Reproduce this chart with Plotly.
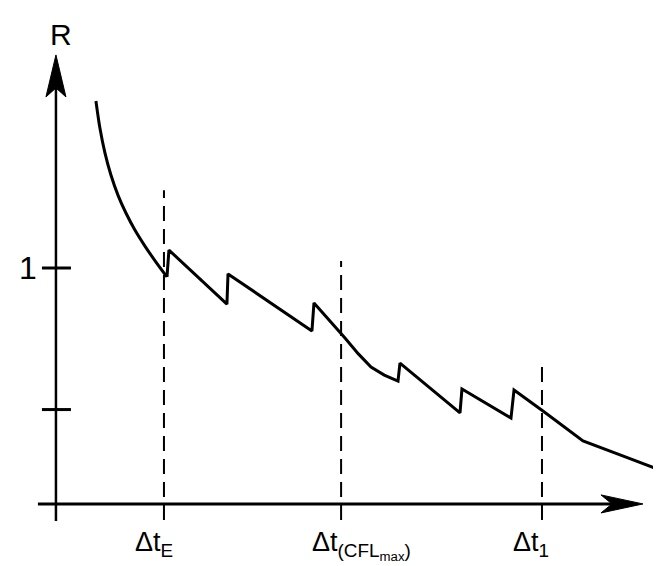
import plotly.graph_objects as go

# ---------------- data ----------------
# R(Δt) curve; x in units where Δt_E = 1
# smooth decreasing part before Δt_E
head_x = [0.370, 0.407, 0.454, 0.509, 0.574, 0.648, 0.731, 0.824, 0.926, 1.028]
head_R = [1.708, 1.593, 1.487, 1.394, 1.309, 1.233, 1.161, 1.093, 1.025, 0.962]
# saw-tooth part after Δt_E
tail_x = [1.028, 1.046, 1.583, 1.593, 2.370, 2.389, 2.676, 2.800, 2.917, 3.040, 3.167,
          3.185, 3.741, 3.759, 4.213, 4.241, 4.509, 4.880, 5.296, 5.667]
tail_R = [0.962, 1.076, 0.847, 0.975, 0.733, 0.852, 0.703, 0.636, 0.580, 0.546, 0.521,
          0.597, 0.386, 0.487, 0.364, 0.483, 0.394, 0.267, 0.195, 0.131]

# vertical dashed markers
mark_x = [1.0, 2.64, 4.5]
mark_top = [1.33, 1.03, 0.606]
mark_labels = ["Δt<sub>E</sub>", "Δt<sub>(CFL<sub>max</sub>)</sub>", "Δt<sub>1</sub>"]

# y-axis ticks
ytick_vals = [1.0, 0.4]
ytick_text = ["1", ""]

# ---------------- geometry / style ----------------
W, H = 661, 566
X_RANGE = [-0.444, 5.676]
Y_RANGE = [-0.297, 2.102]
PX_X = W / (X_RANGE[1] - X_RANGE[0])   # pixels per x unit
PX_Y = H / (Y_RANGE[1] - Y_RANGE[0])   # pixels per R unit

x_axis_start = -0.167
x_axis_tip = 5.435
y_axis_bottom = -0.072
y_axis_tip = 1.903
mark_bottom = -0.068
FONT = "Liberation Sans, Arial, sans-serif"

fig = go.Figure()

# axes lines
fig.add_trace(go.Scatter(x=[x_axis_start, x_axis_tip - 20 / PX_X], y=[0, 0], mode="lines",
                         line=dict(color="black", width=3), hoverinfo="skip"))
fig.add_trace(go.Scatter(x=[0, 0], y=[y_axis_bottom, y_axis_tip - 20 / PX_Y], mode="lines",
                         line=dict(color="black", width=2.5), hoverinfo="skip"))

# arrowheads (pixel offsets converted to data units)
def arrow_y(tx, ty):
    dx, dy = 1 / PX_X, 1 / PX_Y
    xs = [tx, tx - 10 * dx, tx, tx + 10 * dx, tx]
    ys = [ty, ty - 42 * dy, ty - 33 * dy, ty - 42 * dy, ty]
    return xs, ys

def arrow_x(tx, ty):
    dx, dy = 1 / PX_X, 1 / PX_Y
    xs = [tx, tx - 42 * dx, tx - 31 * dx, tx - 42 * dx, tx]
    ys = [ty, ty + 9 * dy, ty, ty - 9 * dy, ty]
    return xs, ys

for fx in (arrow_y(0, y_axis_tip), arrow_x(x_axis_tip, 0)):
    fig.add_trace(go.Scatter(x=fx[0], y=fx[1], mode="lines", fill="toself",
                             fillcolor="black", line=dict(color="black", width=1),
                             hoverinfo="skip"))

# y ticks
for v in ytick_vals:
    fig.add_trace(go.Scatter(x=[-14 / PX_X, 15 / PX_X], y=[v, v], mode="lines",
                             line=dict(color="black", width=3), hoverinfo="skip"))

# dashed markers
for mx, mt in zip(mark_x, mark_top):
    fig.add_trace(go.Scatter(x=[mx, mx], y=[mark_bottom, mt], mode="lines",
                             line=dict(color="black", width=2, dash="15px,8px"),
                             hoverinfo="skip"))

# curve
fig.add_trace(go.Scatter(x=head_x, y=head_R, mode="lines",
                         line=dict(color="black", width=3, shape="spline", smoothing=0.8),
                         hoverinfo="skip"))
fig.add_trace(go.Scatter(x=tail_x, y=tail_R, mode="lines",
                         line=dict(color="black", width=3), hoverinfo="skip"))

# labels
annotations = []
for v, t in zip(ytick_vals, ytick_text):
    if t:
        annotations.append(dict(x=-28 / PX_X, y=v, text=t, showarrow=False,
                                font=dict(size=32, family=FONT, color="black"),
                                xanchor="center", yanchor="middle"))
annotations.append(dict(x=5 / PX_X, y=y_axis_tip + 20 / PX_Y, text="R", showarrow=False,
                        font=dict(size=30, family=FONT, color="black"),
                        xanchor="center", yanchor="middle"))
for mx, lab in zip(mark_x, mark_labels):
    annotations.append(dict(x=mx, y=-0.089, text=lab, showarrow=False,
                            xanchor="left", xshift=-31, yanchor="top",
                            font=dict(size=27, family=FONT, color="black")))

fig.update_layout(
    width=W, height=H,
    margin=dict(l=0, r=0, t=0, b=0),
    paper_bgcolor="white", plot_bgcolor="white",
    showlegend=False,
    xaxis=dict(range=X_RANGE, visible=False, fixedrange=True),
    yaxis=dict(range=Y_RANGE, visible=False, fixedrange=True),
    annotations=annotations,
)

fig.write_html("out.html")
